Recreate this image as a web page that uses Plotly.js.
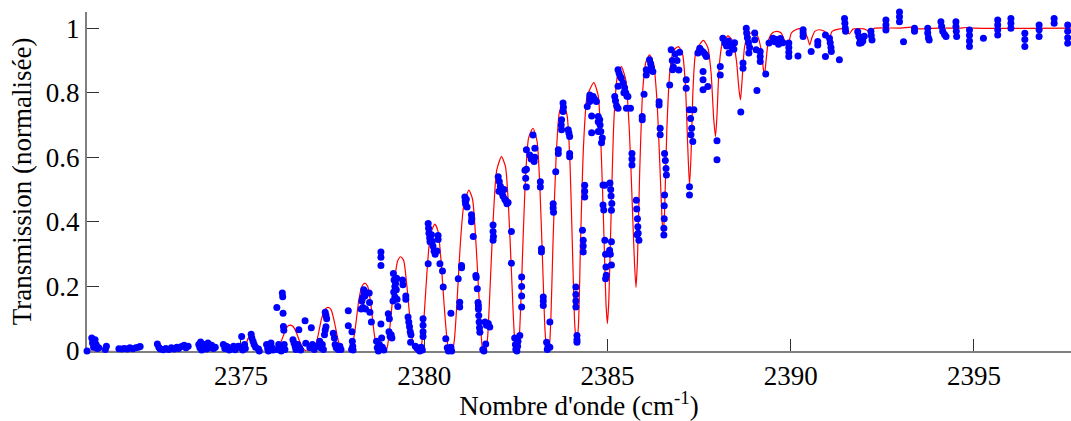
<!DOCTYPE html>
<html>
<head>
<meta charset="utf-8">
<script src="https://cdn.plot.ly/plotly-3.0.1.min.js"></script>
<style>html,body{margin:0;padding:0;background:#fff;}#chart{width:1071px;height:421px;}</style>
</head>
<body>
<div id="chart"></div>
<script>
// Red line: simulated transmission spectrum (wavenumber, transmission)
const lineX = [2370.8,2374.95,2375.1,2375.2,2375.28,2375.36,2375.45,2375.55,2375.95,
2376.02,2376.1,2376.2,2376.28,2376.35,2376.43,2376.52,2376.62,2376.72,2376.8,2376.95,
2377.02,2377.1,2377.2,2377.3,2377.38,2377.46,2377.55,2377.64,2377.72,2377.8,2377.98,
2378.03,2378.12,2378.22,2378.3,2378.38,2378.46,2378.55,2378.63,2378.7,2378.76,2378.95,
2379.0,2379.08,2379.18,2379.28,2379.36,2379.44,2379.53,2379.62,2379.7,2379.76,2379.88,
2379.93,2380.0,2380.08,2380.17,2380.29,2380.38,2380.46,2380.54,2380.62,2380.68,2380.76,
2380.82,2380.9,2380.98,2381.08,2381.22,2381.32,2381.4,2381.48,2381.55,2381.6,2381.68,
2381.73,2381.8,2381.88,2381.98,2382.11,2382.22,2382.3,2382.38,2382.45,2382.5,2382.56,
2382.6,2382.67,2382.75,2382.85,2382.97,2383.08,2383.16,2383.23,2383.3,2383.35,2383.4,
2383.45,2383.52,2383.6,2383.69,2383.79,2383.9,2383.98,2384.05,2384.11,2384.16,
2384.21,2384.27,2384.35,2384.45,2384.63,2384.75,2384.83,2384.9,2384.96,2385.0,
2385.04,2385.1,2385.18,2385.27,2385.38,2385.5,2385.6,2385.68,2385.74,2385.78,
2385.82,2385.88,2385.96,2386.05,2386.15,2386.26,2386.35,2386.43,2386.49,2386.52,
2386.56,2386.62,2386.7,2386.8,2386.94,2387.05,2387.13,2387.19,2387.24,
2387.28,2387.34,2387.42,2387.62,2387.74,2387.83,2387.9,2387.95,
2387.99,2388.05,2388.13,2388.29,2388.42,2388.52,2388.59,2388.63,
2388.67,2388.74,2388.82,2388.97,2389.1,2389.2,2389.26,2389.29,
2389.33,2389.4,2389.5,2389.63,2389.74,2389.84,2389.9,2389.95,
2390.02,2390.14,2390.27,2390.38,2390.46,2390.52,2390.58,2390.66,2390.79,2390.92,2391.0,2391.06,
2391.13,2391.3,2391.5,2391.6,2391.7,2392.0,2392.15,2392.3,2393.0,2393.3,2393.5,2394.0,2394.6,2394.8,2395.0,2397.7];
const lineY = [0,0,0.01,0.04,0.05,0.04,0.01,0,0,
0.005,0.03,0.06,0.077,0.08,0.075,0.055,0.025,0.005,0,0,
0.01,0.045,0.1,0.13,0.135,0.128,0.09,0.04,0.008,0,0,
0.01,0.07,0.16,0.2,0.21,0.2,0.14,0.06,0.01,0,0,
0.015,0.09,0.21,0.28,0.292,0.28,0.2,0.09,0.02,0,0,
0.02,0.11,0.25,0.36,0.393,0.37,0.28,0.15,0.04,0,0,
0.03,0.16,0.32,0.45,0.498,0.47,0.36,0.2,0.06,0.005,0,
0.04,0.2,0.4,0.56,0.602,0.57,0.45,0.25,0.07,0.005,0,
0.05,0.25,0.5,0.66,0.69,0.65,0.5,0.28,0.06,0.005,0.005,
0.08,0.35,0.6,0.74,0.769,0.73,0.58,0.3,0.08,0.024,
0.08,0.35,0.64,0.79,0.831,0.79,0.62,0.38,0.15,0.085,
0.16,0.42,0.72,0.85,0.881,0.84,0.68,0.45,0.27,0.197,
0.28,0.55,0.8,0.895,0.917,0.89,0.78,0.58,0.41,0.359,
0.43,0.68,0.86,0.93,0.943,0.92,0.82,0.64,0.514,
0.6,0.82,0.93,0.962,0.94,0.86,0.72,0.664,
0.73,0.88,0.95,0.976,0.96,0.9,0.81,0.778,
0.83,0.94,0.975,0.988,0.975,0.93,0.87,0.858,
0.9,0.965,0.985,0.99,0.985,0.96,0.945,0.955,
0.985,0.995,0.998,0.99,0.97,0.948,0.97,0.99,0.995,0.99,0.98,0.97,
0.99,0.997,0.997,0.982,0.997,0.998,0.99,1.0,1.0,1.003,0.998,1.0,1.0,1.002,1.0,1.0];

// Blue points: measured transmission, grouped by region [wavenumber, transmission]
const dotsA = [[2370.80,0.0],[2370.93,0.04],[2370.95,0.025],[2370.98,0.012],[2371.02,0.035],[2371.05,0.02],[2371.08,0.008],[2371.12,0.01],
[2371.3,0.005],[2371.33,0.015],[2371.67,0.007],[2371.75,0.006],[2371.82,0.008],[2371.9,0.006],[2371.97,0.01],[2372.05,0.007],[2372.13,0.01],[2372.2,0.012],[2372.25,0.014],
[2372.72,0.022],[2372.76,0.012],[2372.8,0.006],[2372.88,0.004],[2372.95,0.008],[2373.03,0.005],[2373.1,0.01],[2373.18,0.006],[2373.25,0.012],[2373.3,0.008],[2373.38,0.014],[2373.45,0.018],[2373.5,0.01],[2373.56,0.015],
[2373.85,0.02],[2373.88,0.01],[2373.9,0.028],[2373.93,0.003],[2373.97,0.012],[2374.02,0.02],[2374.06,0.006],[2374.1,0.025],[2374.14,0.01],[2374.2,0.018],[2374.25,0.008],[2374.3,0.012],
[2374.52,0.02],[2374.56,0.008],[2374.6,0.015],[2374.65,0.012],[2374.68,0.003],[2374.8,0.015],[2374.84,0.004],[2374.88,0.01],[2374.93,0.015],
[2375.02,0.045],[2375.0,0.012],[2375.05,0.003],[2375.1,0.02],[2375.12,0.008],[2375.28,0.052],[2375.3,0.04],[2375.33,0.03],[2375.36,0.02],[2375.4,0.012],
[2375.48,0.006],[2375.5,0.0],[2375.7,0.02],[2375.73,0.008],[2375.75,0.0],[2375.82,0.025],[2375.85,0.01],[2375.88,0.003]];
const dotsB = [[2375.98,0.135],[2376.0,0.005],[2376.03,0.02],[2376.06,0.01],[2376.1,0.0],[2376.13,0.18],[2376.14,0.168],[2376.15,0.117],[2376.16,0.076],[2376.17,0.064],
[2376.18,0.02],[2376.2,0.005],[2376.42,0.035],[2376.45,0.025],[2376.48,0.015],[2376.5,0.005],[2376.55,0.02],[2376.58,0.066],[2376.6,0.01],[2376.63,0.003],
[2376.75,0.094],[2376.77,0.024],[2376.88,0.01],[2376.92,0.072],[2376.95,0.02],[2377.0,0.005],[2377.05,0.015],[2377.15,0.03],[2377.18,0.01],[2377.22,0.02],[2377.25,0.005],
[2377.3,0.12],[2377.32,0.11],[2377.34,0.1],[2377.32,0.075],[2377.3,0.065],[2377.28,0.05],
[2377.52,0.055],[2377.55,0.04],[2377.57,0.02],[2377.6,0.01],[2377.65,0.005],[2377.7,0.015],[2377.73,0.005],
[2377.93,0.125],[2377.93,0.078],[2378.03,0.06],[2378.04,0.03],[2378.05,0.015],[2378.06,0.003],[2378.02,0.005]];
const dotsC = [[2378.28,0.13],[2378.3,0.155],[2378.32,0.165],[2378.35,0.19],[2378.37,0.186],[2378.36,0.178],[2378.38,0.17],[2378.4,0.13],[2378.33,0.135],[2378.5,0.18],[2378.51,0.15],[2378.52,0.12],
[2378.56,0.09],[2378.7,0.03],[2378.72,0.01],[2378.75,0.0],[2378.78,0.02],[2378.8,0.005],[2378.84,0.04],[2378.86,0.012],[2378.9,0.003],
[2378.82,0.307],[2378.82,0.29],[2378.82,0.265],[2378.82,0.084],
[2379.02,0.115],[2379.05,0.1],[2379.04,0.06],[2379.07,0.045],[2379.1,0.05],[2379.12,0.04],
[2379.16,0.24],[2379.18,0.22],[2379.2,0.2],[2379.17,0.183],[2379.2,0.168],[2379.22,0.21],[2379.24,0.19],[2379.26,0.16],[2379.28,0.138],[2379.25,0.225],[2379.15,0.155],
[2379.41,0.22],[2379.42,0.205],[2379.5,0.17],[2379.5,0.16],[2379.56,0.105],[2379.58,0.09],[2379.6,0.075],[2379.62,0.06],[2379.64,0.05],[2379.63,0.027],
[2379.76,0.015],[2379.8,0.01],[2379.84,0.005],[2379.88,0.0],[2379.92,0.012],[2379.95,0.003],[2379.97,0.1],[2379.97,0.08],[2379.97,0.06],[2379.97,0.045]];
const dotsD = [[2380.11,0.395],[2380.12,0.38],[2380.13,0.365],[2380.15,0.35],[2380.16,0.338],[2380.11,0.27],
[2380.2,0.36],[2380.22,0.34],[2380.24,0.325],[2380.27,0.31],[2380.3,0.3],[2380.35,0.31],[2380.38,0.358],[2380.38,0.345],
[2380.43,0.27],[2380.5,0.248],[2380.52,0.198],[2380.59,0.038],[2380.63,0.01],[2380.66,0.0],[2380.7,0.005],[2380.73,0.012],[2380.75,0.0],[2380.73,0.117],
[2380.93,0.224],[2380.97,0.151],[2380.97,0.136],[2381.02,0.265],[2381.02,0.258]];
const dotsE = [[2381.11,0.477],[2381.12,0.465],[2381.13,0.455],[2381.15,0.47],[2381.17,0.446],[2381.29,0.422],[2381.3,0.41],[2381.29,0.4],[2381.34,0.355],
[2381.41,0.234],[2381.42,0.228],[2381.45,0.193],[2381.47,0.15],[2381.48,0.13],[2381.49,0.11],[2381.5,0.09],[2381.51,0.072],[2381.52,0.058],[2381.48,0.14],
[2381.66,0.09],[2381.7,0.08],[2381.75,0.085],[2381.79,0.074],[2381.68,0.022],[2381.6,0.005],[2381.63,0.0],
[2381.88,0.39],[2381.88,0.37],[2381.89,0.355],[2381.88,0.343]];
const dotsF = [[2382.02,0.54],[2382.05,0.525],[2382.08,0.51],[2382.1,0.5],[2382.12,0.49],[2382.15,0.48],[2382.18,0.5],[2382.2,0.47],[2382.23,0.465],[2382.26,0.456],[2382.29,0.46],[2382.04,0.495],
[2382.38,0.37],[2382.38,0.272],[2382.47,0.04],[2382.49,0.02],[2382.5,0.005],[2382.53,0.0],[2382.55,0.015],[2382.56,0.03],[2382.61,0.048],
[2382.66,0.229],[2382.66,0.2],[2382.66,0.17],[2382.66,0.136],[2382.75,0.56],[2382.77,0.535],[2382.79,0.508],[2382.79,0.623],[2382.79,0.563],
[2382.88,0.607],[2382.92,0.595],[2382.95,0.6],[2383.0,0.587],[2383.02,0.6],[2382.97,0.669],[2383.02,0.628],
[2383.17,0.524],[2383.17,0.508],[2383.2,0.317],[2383.2,0.307],[2383.25,0.167],[2383.25,0.155],[2383.25,0.141],
[2383.34,0.027],[2383.38,0.015],[2383.43,0.012],[2383.36,0.005],[2383.43,0.09]];
const dotsG = [[2383.52,0.456],[2383.52,0.443],[2383.53,0.43],[2383.59,0.555],[2383.66,0.623],[2383.66,0.612],
[2383.75,0.716],[2383.74,0.7],[2383.75,0.685],[2383.79,0.768],[2383.8,0.755],[2383.79,0.742],
[2383.93,0.685],[2383.95,0.675],[2383.97,0.664],[2383.97,0.612],[2383.97,0.602],
[2384.14,0.198],[2384.14,0.175],[2384.14,0.155],[2384.14,0.136],[2384.17,0.048],[2384.17,0.035],[2384.17,0.027],
[2384.32,0.374],[2384.34,0.343],[2384.34,0.325],[2384.34,0.307],[2384.38,0.513],[2384.38,0.495],[2384.38,0.477]];
const dotsH = [[2384.45,0.757],[2384.52,0.793],[2384.52,0.783],[2384.52,0.773],[2384.61,0.788],[2384.65,0.78],[2384.7,0.773],[2384.57,0.728],[2384.57,0.676],
[2384.75,0.726],[2384.75,0.71],[2384.75,0.68],[2384.79,0.716],[2384.8,0.7],[2384.82,0.68],[2384.84,0.645],[2384.86,0.66],
[2384.88,0.514],[2384.88,0.452],[2384.9,0.437],[2384.93,0.343],[2384.95,0.3],[2384.96,0.26],[2384.97,0.235],[2384.95,0.224],[2384.93,0.513],
[2385.07,0.52],[2385.09,0.5],[2385.1,0.48],[2385.12,0.457],[2385.11,0.436],[2385.06,0.312],[2385.08,0.3],[2385.11,0.266],[2385.11,0.338],
[2385.2,0.788],[2385.22,0.775],[2385.25,0.76],[2385.29,0.752],[2385.29,0.871],[2385.32,0.86],[2385.35,0.85],[2385.38,0.845],[2385.29,0.82]];
const dotsI = [[2385.43,0.83],[2385.47,0.815],[2385.5,0.8],[2385.53,0.79],[2385.56,0.788],[2385.45,0.8],[2385.52,0.752],[2385.63,0.752],
[2385.67,0.612],[2385.67,0.595],[2385.67,0.576],[2385.79,0.467],[2385.8,0.44],[2385.82,0.41],[2385.83,0.385],[2385.84,0.365],[2385.86,0.343],[2385.81,0.36],
[2385.95,0.726],[2385.95,0.716],[2386.0,0.795],[2386.06,0.871],[2386.06,0.855],[2386.15,0.902],[2386.18,0.89],[2386.2,0.878],[2386.24,0.866],[2386.17,0.87]];
const dotsJ = [[2386.41,0.772],[2386.41,0.762],[2386.44,0.69],[2386.44,0.67],[2386.56,0.612],[2386.58,0.59],[2386.6,0.565],[2386.61,0.545],
[2386.56,0.483],[2386.55,0.45],[2386.55,0.41],[2386.54,0.38],[2386.54,0.359],[2386.7,0.824],
[2386.74,0.933],[2386.77,0.9],[2386.8,0.88],[2386.85,0.92],[2386.9,0.9],[2386.95,0.87],[2386.97,0.925],[2386.78,0.871],
[2387.15,0.84],[2387.15,0.814],[2387.24,0.747],[2387.27,0.72],[2387.3,0.69],[2387.33,0.649],[2387.28,0.67],[2387.24,0.509],[2387.24,0.483],[2387.36,0.747]];
const dotsK = [[2387.47,0.923],[2387.52,0.938],[2387.57,0.93],[2387.62,0.925],[2387.67,0.918],[2387.7,0.912],[2387.61,0.866],[2387.61,0.84],[2387.61,0.809],[2387.74,0.819],
[2387.99,0.651],[2387.99,0.592],[2388.08,0.881],[2388.08,0.855],
[2388.15,0.969],[2388.2,0.955],[2388.25,0.945],[2388.3,0.96],[2388.35,0.95],[2388.4,0.94],[2388.45,0.935],[2388.47,0.955],[2388.32,0.923],
[2388.64,0.74],[2388.7,0.892],[2388.7,0.876]];
const dotsL = [[2388.79,1.0],[2388.8,0.985],[2388.82,0.97],[2388.85,0.955],[2388.88,0.94],[2388.86,0.923],[2389.02,0.985],[2389.02,0.964],[2389.06,0.933],[2389.08,0.807],
[2389.17,0.928],[2389.17,0.912],[2389.17,0.897],[2389.32,0.858],[2389.41,0.954],
[2389.52,0.969],[2389.57,0.958],[2389.62,0.965],[2389.67,0.95],[2389.72,0.968],[2389.79,0.955],
[2389.95,0.954],[2389.95,0.94],[2389.95,0.925],[2389.95,0.912],[2390.2,0.914],[2390.34,0.995],[2390.34,0.985],[2390.34,0.974],
[2390.56,0.928],[2390.74,0.959],[2390.74,0.948],[2390.95,0.979],[2390.95,0.912],
[2391.06,0.969],[2391.08,0.955],[2391.1,0.94],[2391.11,0.928],[2391.33,0.902],[2391.47,1.03],[2391.48,1.015],[2391.49,1.0],[2391.5,0.99]];
const dotsM = [[2391.83,0.989],[2391.86,0.975],[2391.9,0.965],[2391.93,0.955],[2391.97,0.96],[2392.01,0.975],[2391.88,0.953],
[2392.19,0.99],[2392.2,0.977],[2392.22,0.963],[2392.6,1.025],[2392.6,1.01],[2392.6,0.994],[2392.97,1.05],[2392.97,1.035],[2392.97,1.02],[2393.08,0.958],
[2393.38,1.0],[2393.38,0.99],[2393.74,1.0],[2393.74,0.985],[2393.76,0.97],[2393.78,0.963],
[2394.1,1.02],[2394.12,1.005],[2394.15,0.99],[2394.2,0.98],[2394.24,0.974],[2394.51,1.02],[2394.51,1.005],[2394.52,0.99],[2394.53,0.974],
[2394.88,0.994],[2394.88,0.978],[2394.88,0.96],[2394.88,0.943],[2395.26,0.969],[2395.65,1.025],[2395.65,1.01],[2395.65,0.995],[2395.65,0.979],
[2396.01,1.03],[2396.01,1.015],[2396.01,1.0],[2396.39,0.984],[2396.39,0.965],[2396.39,0.943],[2396.78,1.01],[2396.78,0.995],[2396.78,0.974],
[2397.19,1.03],[2397.19,1.015],[2397.56,1.01],[2397.56,0.99],[2397.56,0.97],[2397.56,0.953]];

const xTicks = [2375, 2380, 2385, 2390, 2395];
const yTicks = [0, 0.2, 0.4, 0.6, 0.8, 1];
const yTickText = ['0', '0.2', '0.4', '0.6', '0.8', '1'];

const allDots = [].concat(dotsA, dotsB, dotsC, dotsD, dotsE, dotsF, dotsG, dotsH, dotsI, dotsJ, dotsK, dotsL, dotsM);

const FONT = 'Liberation Serif, Times New Roman, serif';

const traces = [
  {x: lineX, y: lineY, type: 'scatter', mode: 'lines',
   line: {color: '#ff0000', width: 1.2, shape: 'spline', smoothing: 0.6}, hoverinfo: 'skip'},
  {x: allDots.map(d => d[0]), y: allDots.map(d => d[1]), type: 'scatter', mode: 'markers',
   marker: {color: '#0000ff', size: 7, line: {width: 0}}, cliponaxis: false}
];

const layout = {
  width: 1071, height: 421,
  margin: {l: 87, r: 0, t: 12, b: 70},
  paper_bgcolor: '#ffffff', plot_bgcolor: '#ffffff',
  showlegend: false,
  font: {family: FONT, color: '#000', size: 27},
  xaxis: {
    range: [2370.8, 2397.65], tickvals: xTicks, ticktext: xTicks.map(String),
    ticks: 'inside', ticklen: 12, tickwidth: 1, tickcolor: '#333',
    showline: true, linecolor: '#808080', linewidth: 2, mirror: false,
    showgrid: false, zeroline: false, layer: 'below traces',
    tickfont: {family: FONT, size: 27, color: '#000'},
    title: {text: "Nombre d'onde (cm<sup>-1</sup>)", font: {family: FONT, size: 27, color: '#000'}, standoff: 8}
  },
  yaxis: {
    range: [0, 1.05], tickvals: yTicks, ticktext: yTickText,
    ticks: 'inside', ticklen: 12, tickwidth: 1, tickcolor: '#333',
    showline: true, linecolor: '#808080', linewidth: 2, mirror: false,
    showgrid: false, zeroline: false, layer: 'below traces',
    tickfont: {family: FONT, size: 27, color: '#000'},
    title: {text: 'Transmission (normalisée)', font: {family: FONT, size: 27, color: '#000'}, standoff: 6}
  }
};

Plotly.newPlot('chart', traces, layout, {displayModeBar: false, staticPlot: true});
</script>
</body>
</html>
